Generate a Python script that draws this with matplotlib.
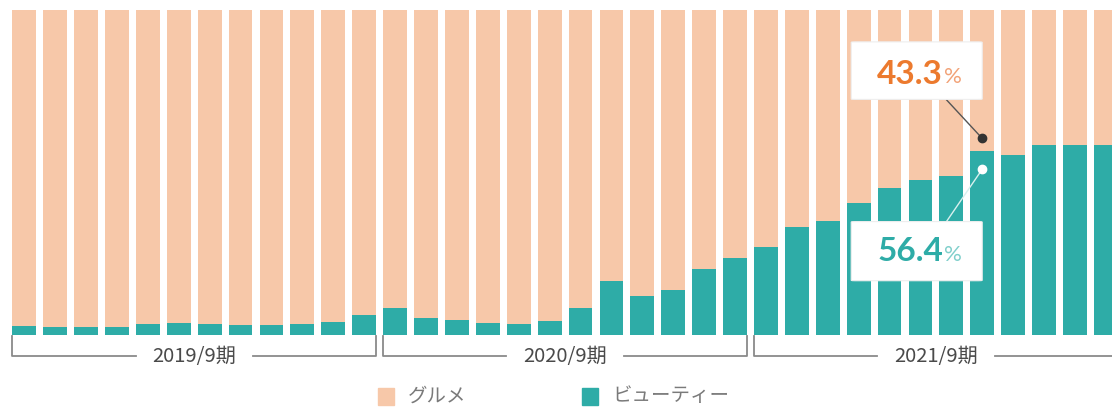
import matplotlib.pyplot as plt
from matplotlib.patches import FancyBboxPatch, Rectangle

plt.rcParams['font.family'] = ['Noto Sans CJK JP', 'DejaVu Sans']

# monthly share (%) of each category, fiscal years 2019/9 - 2021/9
beauty = [2.9, 2.4, 2.4, 2.4, 3.5, 3.8, 3.5, 3.1, 3.1, 3.5, 4.1, 6.2,
          8.3, 5.2, 4.6, 3.8, 3.5, 4.2, 8.3, 16.6, 12.1, 13.8, 20.3, 23.8,
          27.2, 33.3, 35.2, 40.7, 45.1, 47.7, 49.0, 56.6, 55.4, 58.4, 58.4, 58.4]
gourmet = [97.1, 97.6, 97.6, 97.6, 96.5, 96.2, 96.5, 96.9, 96.9, 96.5, 95.9, 93.8,
           91.7, 94.8, 95.4, 96.2, 96.5, 95.8, 91.7, 83.4, 87.9, 86.2, 79.7, 76.2,
           72.8, 66.7, 64.8, 59.3, 54.9, 52.3, 51.0, 43.4, 44.6, 41.6, 41.6, 41.6]
periods = ['2019/9期', '2020/9期', '2021/9期']
legend_labels = ['グルメ', 'ビューティー']
callout_idx = 31
callout_gourmet = '43.3'
callout_beauty = '56.4'

peach = '#F7C8A9'
teal = '#2EACA7'
orange = '#EC7A2E'

fig = plt.figure(figsize=(11.12, 4.08), dpi=100)
ax = fig.add_axes([0, 0, 1, 1])
ax.set_xlim(-0.786, 35.2)
ax.set_ylim(-22.46, 103.08)
ax.axis('off')

x = list(range(len(beauty)))
w = 0.77
ax.bar(x, beauty, width=w, color=teal, zorder=2)
ax.bar(x, gourmet, width=w, bottom=beauty, color=peach, zorder=2)

# period brackets under the bars
for k, name in enumerate(periods):
    x0 = 12 * k - w / 2
    x1 = 12 * k + 11 + w / 2
    xc = (x0 + x1) / 2
    yb = -6.6
    kw = dict(color='#8a8a8a', lw=1.3, clip_on=True, zorder=1)
    ax.plot([x0, x0, xc - 1.9], [-0.3, yb, yb], **kw)
    ax.plot([xc + 1.9, x1, x1], [yb, yb, -0.3], **kw)
    ax.text(xc, yb, name, ha='center', va='center', fontsize=14.5,
            color='#4a4a4a')

# legend
for lx, col, lab in [(11.45, peach, legend_labels[0]), (18.05, teal, legend_labels[1])]:
    ax.add_patch(Rectangle((lx, -21.5), 0.53, 5.2, color=col, clip_on=False))
    ax.text(lx + 0.97, -18.7, lab, ha='left', va='center', fontsize=14,
            color='#7a7a7a')

# callouts
i = callout_idx
for y0, y1, num, col, pcol, ty, dot_y, line_end, dcol, lcol in [
        (72.5, 90.2, callout_gourmet, orange, '#F2A277', 80.3, 60.5, 72.3, '#333333', '#555555'),
        (16.7, 34.9, callout_beauty, teal, '#7FCFCB', 25.6, 51.0, 35.0, 'white', '#d8f0ee')]:
    ax.add_patch(FancyBboxPatch((i - 4.24, y0), 4.24, y1 - y0,
                                boxstyle='round,pad=0,rounding_size=0.12',
                                fc='white', ec='#eeeeee', lw=0.8, zorder=4))
    ax.plot([i - 1.15, i], [line_end, dot_y], color=lcol, lw=1.0, zorder=3)
    ax.plot(i, dot_y, 'o', ms=6, color=dcol, zorder=3)
    ax.text(i - 1.27, ty, num, ha='right', va='center', fontsize=24,
            fontweight='bold', color=col, family=['Lato', 'DejaVu Sans'], zorder=5)
    ax.text(i - 1.24, ty - 0.9, '%', ha='left', va='center', fontsize=16,
            color=pcol, family=['Lato', 'DejaVu Sans'], zorder=5)

fig.savefig('out.png', dpi=100)
